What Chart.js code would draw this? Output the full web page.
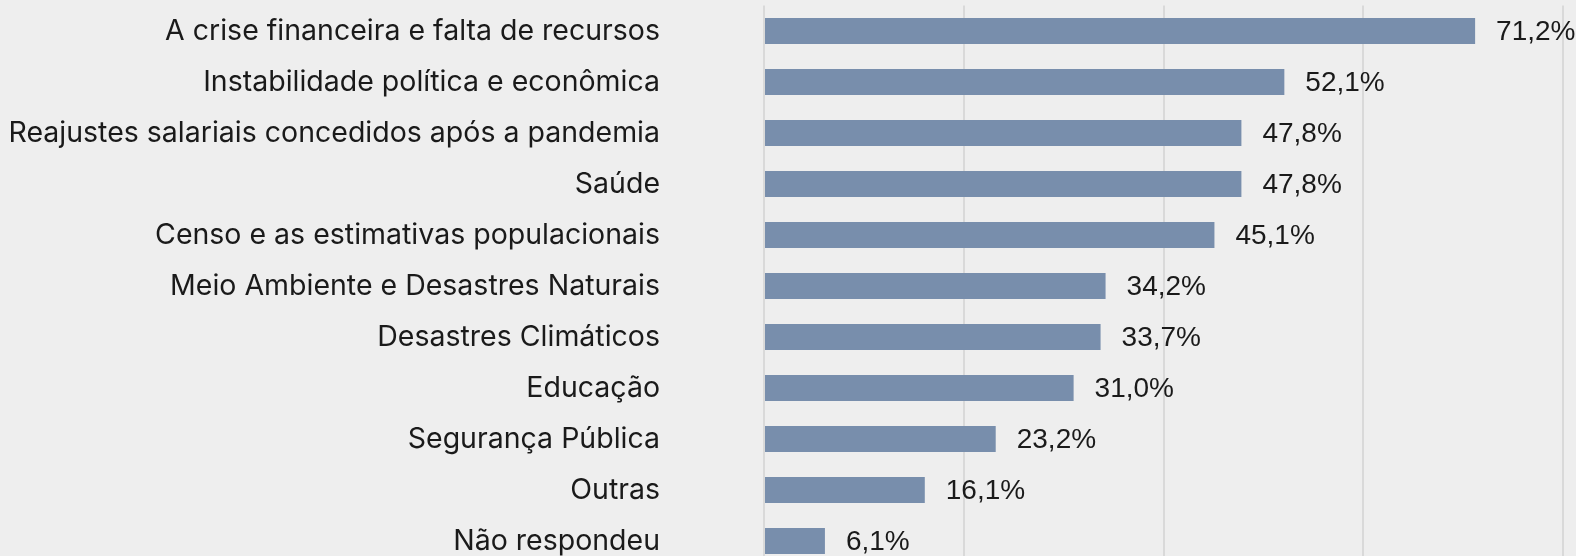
<!DOCTYPE html>
<html>
<head>
<meta charset="utf-8">
<script src="https://cdn.jsdelivr.net/npm/chart.js@4"></script>
<style>
  html, body { margin: 0; padding: 0; background: #eeeeee; overflow: hidden; }
  canvas { display: block; }
</style>
</head>
<body>
<canvas id="grafico" width="1576" height="572"></canvas>
<script>
  const categorias = [
    'A crise financeira e falta de recursos',
    'Instabilidade política e econômica',
    'Reajustes salariais concedidos após a pandemia',
    'Saúde',
    'Censo e as estimativas populacionais',
    'Meio Ambiente e Desastres Naturais',
    'Desastres Climáticos',
    'Educação',
    'Segurança Pública',
    'Outras',
    'Não respondeu'
  ];
  const valores = [71.2, 52.1, 47.8, 47.8, 45.1, 34.2, 33.7, 31.0, 23.2, 16.1, 6.1];
  const eixoMax = 80;
  const eixoPasso = 20;

  const fmt = v => v.toFixed(1).replace('.', ',') + '%';

  // rotulos de valor ao lado de cada barra
  const rotulos = {
    id: 'rotulos',
    afterDatasetsDraw(chart) {
      const ctx = chart.ctx;
      const meta = chart.getDatasetMeta(0);
      ctx.save();
      ctx.font = '28px "Liberation Sans", Arial, sans-serif';
      ctx.fillStyle = '#1a1a1a';
      ctx.textAlign = 'left';
      ctx.textBaseline = 'middle';
      meta.data.forEach((bar, i) => {
        ctx.fillText(fmt(valores[i]), bar.x + 21, bar.y + 1);
      });
      ctx.restore();
    }
  };

  const ctx = document.getElementById('grafico');
  const grafico = new Chart(ctx, {
    type: 'bar',
    data: {
      labels: categorias,
      datasets: [{
        data: valores,
        backgroundColor: '#788eac',
        borderWidth: 0,
        categoryPercentage: 1,
        barPercentage: 0.51
      }]
    },
    options: {
      indexAxis: 'y',
      responsive: false,
      animation: false,
      layout: { padding: { top: 5.5, bottom: 5.5, right: 13, left: 0 } },
      plugins: { legend: { display: false }, tooltip: { enabled: false } },
      scales: {
        x: {
          min: 0,
          max: eixoMax,
          ticks: { display: false, stepSize: eixoPasso },
          grid: { color: '#d9d9d9', lineWidth: 2, drawTicks: false },
          border: { display: false }
        },
        y: {
          ticks: {
            color: '#1a1a1a',
            padding: 104,
            font: { family: 'Inter', size: 28.5 }
          },
          grid: { display: false, drawTicks: false },
          border: { display: false },
          afterFit(scale) {
            scale.width = 764;
            scale.paddingTop = 0;
            scale.paddingBottom = 0;
          }
        }
      }
    },
    plugins: [rotulos]
  });
</script>
</body>
</html>
